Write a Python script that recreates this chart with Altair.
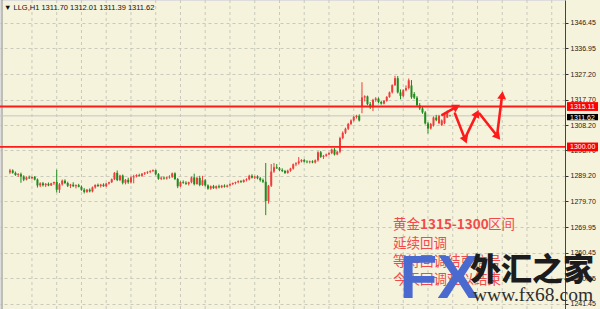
import math
import altair as alt
import pandas as pd

# ---- LLG H1 candles, oldest on the left ----
opens = [
    1290.5, 1291.2, 1290.3, 1289.5, 1289.8, 1288.9, 1287.8, 1288.6, 1288.3, 1288.8,
    1287.8, 1285.6, 1286.4, 1285.7, 1286.2, 1285.6, 1286.4, 1286.9, 1284.0, 1286.0,
    1287.4, 1286.5, 1285.5, 1285.9, 1285.3, 1285.7, 1285.1, 1284.0, 1283.2, 1284.0,
    1283.4, 1284.9, 1285.8, 1285.4, 1285.9, 1285.3, 1286.3, 1286.8, 1287.9, 1290.3,
    1287.6, 1289.3, 1286.6, 1287.7, 1286.8, 1288.6, 1289.0, 1289.5, 1289.2, 1290.0,
    1290.4, 1290.7, 1291.0, 1291.3, 1289.8, 1288.1, 1288.5, 1288.2, 1288.6, 1288.8,
    1290.1, 1288.0, 1285.3, 1286.9, 1286.6, 1286.2, 1286.8, 1288.6, 1286.1, 1288.4,
    1285.8, 1287.5, 1285.6, 1284.4, 1285.3, 1284.6, 1285.3, 1284.9, 1285.5, 1285.1,
    1285.6, 1286.1, 1286.5, 1286.8, 1287.2, 1286.9, 1287.6, 1287.9, 1289.2, 1288.5,
    1288.9, 1288.3, 1287.6, 1287.0, 1279.8, 1285.5, 1290.8, 1292.4, 1292.0, 1291.4,
    1291.0, 1290.3, 1291.1, 1291.9, 1293.5, 1293.9, 1294.6, 1295.1, 1294.5, 1294.3,
    1294.6, 1294.2, 1295.0, 1298.0, 1296.3, 1296.7, 1297.2, 1297.7, 1299.0, 1297.2,
    1298.2, 1303.3, 1305.3, 1306.8, 1308.6, 1309.9, 1311.2, 1311.6, 1315.3, 1318.5,
    1318.9, 1316.0, 1314.8, 1317.6, 1318.1, 1316.8, 1316.2, 1317.2, 1318.7, 1320.4,
    1323.1, 1325.7, 1320.4, 1319.1, 1321.2, 1322.0, 1323.0, 1319.8, 1318.4, 1315.6,
    1314.4, 1312.9, 1308.8, 1306.9, 1308.0, 1311.0, 1308.9, 1308.2, 1308.9, 1311.0,
    1311.70,
]
highs = [
    1291.8, 1291.6, 1290.8, 1290.2, 1290.4, 1289.4, 1289.0, 1289.3, 1289.0, 1289.1,
    1288.2, 1286.8, 1286.9, 1286.5, 1286.7, 1286.6, 1287.0, 1291.5, 1286.5, 1287.8,
    1287.9, 1287.0, 1286.2, 1286.8, 1286.0, 1286.2, 1285.6, 1284.6, 1284.3, 1284.5,
    1285.2, 1286.0, 1286.3, 1286.2, 1286.4, 1286.5, 1287.0, 1288.2, 1290.6, 1291.2,
    1289.6, 1289.7, 1288.0, 1288.5, 1289.0, 1289.6, 1289.8, 1290.0, 1290.2, 1290.6,
    1290.9, 1291.3, 1291.6, 1291.5, 1290.2, 1288.9, 1289.0, 1288.9, 1289.4, 1290.4,
    1290.5, 1288.4, 1287.2, 1287.5, 1287.2, 1287.0, 1288.9, 1290.0, 1288.8, 1289.2,
    1289.2, 1288.0, 1286.0, 1285.6, 1285.8, 1285.6, 1285.9, 1285.8, 1286.0, 1285.9,
    1286.4, 1286.7, 1287.0, 1287.5, 1287.6, 1287.9, 1288.3, 1289.6, 1289.8, 1289.2,
    1289.4, 1288.8, 1288.2, 1294.0, 1285.8, 1293.6, 1294.0, 1293.6, 1292.5, 1292.0,
    1291.4, 1291.5, 1292.2, 1293.8, 1294.3, 1296.2, 1295.4, 1295.5, 1295.0, 1294.9,
    1295.0, 1295.3, 1298.4, 1298.5, 1297.0, 1297.5, 1298.0, 1299.4, 1299.6, 1298.5,
    1303.8, 1305.8, 1307.2, 1309.0, 1310.3, 1311.6, 1312.0, 1312.2, 1324.2, 1319.3,
    1319.2, 1316.8, 1318.0, 1318.6, 1318.5, 1317.3, 1317.5, 1319.0, 1320.7, 1323.4,
    1326.6, 1326.5, 1321.5, 1321.6, 1323.0, 1325.6, 1325.0, 1320.5, 1319.0, 1316.4,
    1315.0, 1313.4, 1309.3, 1309.0, 1311.4, 1312.0, 1312.0, 1310.3, 1312.8, 1313.6,
    1312.01,
]
lows = [
    1289.9, 1290.0, 1289.2, 1288.8, 1286.6, 1287.2, 1287.5, 1288.0, 1287.9, 1287.5,
    1284.8, 1285.0, 1285.2, 1285.0, 1285.3, 1285.4, 1285.8, 1283.0, 1282.8, 1285.5,
    1286.1, 1285.0, 1284.6, 1285.0, 1284.5, 1284.9, 1283.6, 1282.6, 1282.8, 1283.0,
    1283.0, 1284.4, 1285.0, 1284.8, 1285.1, 1285.0, 1285.9, 1286.5, 1287.6, 1287.2,
    1287.2, 1286.0, 1286.0, 1286.2, 1286.3, 1286.4, 1288.6, 1288.9, 1288.8, 1289.5,
    1289.9, 1290.2, 1290.6, 1289.4, 1287.7, 1287.6, 1287.8, 1287.8, 1288.1, 1288.4,
    1287.6, 1284.6, 1285.0, 1286.2, 1285.8, 1285.6, 1286.4, 1285.6, 1285.9, 1285.3,
    1285.4, 1285.2, 1284.0, 1284.0, 1284.3, 1284.2, 1284.5, 1284.6, 1284.8, 1284.8,
    1285.3, 1285.8, 1286.0, 1286.4, 1286.5, 1286.6, 1287.1, 1287.5, 1288.2, 1288.0,
    1287.9, 1287.0, 1286.5, 1274.5, 1278.8, 1285.0, 1290.3, 1291.8, 1290.9, 1290.6,
    1289.9, 1290.0, 1290.7, 1291.5, 1292.8, 1293.4, 1294.2, 1294.2, 1293.9, 1293.8,
    1293.9, 1293.8, 1294.5, 1295.9, 1295.5, 1296.3, 1296.9, 1297.3, 1296.8, 1296.9,
    1297.6, 1302.9, 1304.8, 1306.3, 1308.1, 1309.5, 1310.6, 1309.5, 1312.6, 1317.0,
    1315.6, 1314.2, 1313.4, 1316.9, 1316.4, 1315.8, 1315.9, 1316.9, 1318.4, 1320.0,
    1322.8, 1320.0, 1317.8, 1318.6, 1320.8, 1321.5, 1318.0, 1317.9, 1315.0, 1313.8,
    1312.4, 1308.4, 1305.0, 1306.5, 1307.6, 1309.6, 1308.5, 1307.8, 1308.5, 1310.8,
    1311.39,
]
closes = [
    1291.2, 1290.3, 1289.5, 1289.8, 1288.9, 1287.8, 1288.6, 1288.3, 1288.8, 1287.8,
    1285.6, 1286.4, 1285.7, 1286.2, 1285.6, 1286.4, 1286.9, 1284.0, 1286.0, 1287.4,
    1286.5, 1285.5, 1285.9, 1285.3, 1285.7, 1285.1, 1284.0, 1283.2, 1284.0, 1283.4,
    1284.9, 1285.8, 1285.4, 1285.9, 1285.3, 1286.3, 1286.8, 1287.9, 1290.3, 1287.6,
    1289.3, 1286.6, 1287.7, 1286.8, 1288.6, 1289.0, 1289.5, 1289.2, 1290.0, 1290.4,
    1290.7, 1291.0, 1291.3, 1289.8, 1288.1, 1288.5, 1288.2, 1288.6, 1288.8, 1290.1,
    1288.0, 1285.3, 1286.9, 1286.6, 1286.2, 1286.8, 1288.6, 1286.1, 1288.4, 1285.8,
    1287.5, 1285.6, 1284.4, 1285.3, 1284.6, 1285.3, 1284.9, 1285.5, 1285.1, 1285.6,
    1286.1, 1286.5, 1286.8, 1287.2, 1286.9, 1287.6, 1287.9, 1289.2, 1288.5, 1288.9,
    1288.3, 1287.6, 1287.0, 1279.8, 1285.5, 1290.8, 1292.4, 1292.0, 1291.4, 1291.0,
    1290.3, 1291.1, 1291.9, 1293.5, 1293.9, 1294.6, 1295.1, 1294.5, 1294.3, 1294.6,
    1294.2, 1295.0, 1298.0, 1296.3, 1296.7, 1297.2, 1297.7, 1299.0, 1297.2, 1298.2,
    1303.3, 1305.3, 1306.8, 1308.6, 1309.9, 1311.2, 1311.6, 1309.9, 1318.5, 1318.9,
    1316.0, 1314.8, 1317.6, 1318.1, 1316.8, 1316.2, 1317.2, 1318.7, 1320.4, 1323.1,
    1325.7, 1320.4, 1319.1, 1321.2, 1322.0, 1324.9, 1318.6, 1318.4, 1315.6, 1314.4,
    1312.9, 1308.8, 1306.9, 1308.6, 1311.0, 1310.0, 1311.6, 1309.9, 1312.4, 1313.2,
    1311.62,
]

# price scale labels on the right
axis_ticks = [1346.45, 1336.95, 1327.20, 1317.70, 1308.20, 1298.70,
              1289.20, 1279.70, 1269.95, 1260.45, 1250.95, 1241.45]
levels = [1315.11, 1300.00]
last_price = 1311.62
header = "\u25bc LLG,H1  1311.70 1312.01 1311.39 1311.62"

# hand-drawn forecast path (bar, price) for each arrow stroke
arrow_from_bar = [157.2, 161.8, 165.4, 170.7, 177.1]
arrow_from_price = [1312.0, 1312.5, 1303.1, 1312.5, 1304.2]
arrow_to_bar = [162.0, 165.4, 169.6, 177.1, 178.9]
arrow_to_price = [1314.8, 1303.1, 1312.1, 1304.2, 1318.9]

note_lines = ["延续回调", "等待回调结束信号", "今天回调难以结束"]

# ---- layout ----
W, H = 565, 309
X_DOM = [-1.8, 200.0]
Y_DOM = [1239.4, 1354.94]
BG = "#f5f3dc"
UP = "#f03c3c"
DOWN = "#1f8c1f"
LINE_RED = "#ff1a1a"
NOTE_RED = "#f24a4a"

xs = alt.Scale(domain=X_DOM, nice=False, zero=False)
ys = alt.Scale(domain=Y_DOM, nice=False, zero=False)
yaxis = alt.Axis(
    orient="right", values=axis_ticks, format=".2f", title=None,
    labelFont="Liberation Sans", labelFontSize=7, labelColor="#1a1a1a",
    labelPadding=2, tickSize=3, tickColor="#333", domainColor="#444",
    grid=True, gridColor="#c9c9bc", gridDash=[3, 3], labelOverlap=False,
)

df = pd.DataFrame({"bar": range(len(opens)), "open": opens, "high": highs,
                   "low": lows, "close": closes})
df["dir"] = ["up" if c >= o else "down" for o, c in zip(opens, closes)]
color = alt.Color("dir:N", scale=alt.Scale(domain=["up", "down"], range=[UP, DOWN]),
                  legend=None)

base = alt.Chart(df)
wicks = base.mark_rule(strokeWidth=1).encode(
    x=alt.X("bar:Q", scale=xs, axis=None),
    y=alt.Y("low:Q", scale=ys, axis=yaxis),
    y2="high:Q", color=color)
bodies = base.mark_bar(size=2).encode(
    x=alt.X("bar:Q", scale=xs, axis=None),
    y=alt.Y("open:Q", scale=ys, axis=yaxis),
    y2="close:Q", color=color)

# vertical dotted grid every 9 bars
vgrid = alt.Chart(pd.DataFrame({"bar": list(range(8, 200, 9))})).mark_rule(
    color="#c9c9bc", strokeDash=[3, 3], strokeWidth=1).encode(
    x=alt.X("bar:Q", scale=xs, axis=None), y=alt.value(0), y2=alt.value(H))

lv = pd.DataFrame({"price": levels})
level_lines = alt.Chart(lv).mark_rule(color=LINE_RED, strokeWidth=1.8).encode(
    y=alt.Y("price:Q", scale=ys, axis=yaxis), x=alt.value(0), x2=alt.value(W))

bid = pd.DataFrame({"price": [last_price]})
bid_line = alt.Chart(bid).mark_rule(color="#c6c6c0", strokeWidth=1).encode(
    y=alt.Y("price:Q", scale=ys, axis=yaxis), x=alt.value(0), x2=alt.value(W))

# left frame edge
frame = alt.Chart(bid).mark_rule(color="#8a8a84", strokeWidth=1).encode(
    x=alt.value(2), y=alt.value(0), y2=alt.value(H))

# arrows
px_bar = W / (X_DOM[1] - X_DOM[0])
px_price = H / (Y_DOM[1] - Y_DOM[0])
rows, heads = [], []
for k, (b0, p0, b1, p1) in enumerate(zip(arrow_from_bar, arrow_from_price,
                                           arrow_to_bar, arrow_to_price)):
    rows.append({"seg": k, "step": 0, "bar": b0, "price": p0})
    rows.append({"seg": k, "step": 1, "bar": b1, "price": p1})
    dx = (b1 - b0) * px_bar
    dy = -(p1 - p0) * px_price
    ang = math.degrees(math.atan2(dx, -dy)) % 360
    heads.append({"bar": b1, "price": p1, "angle": ang})
arrow_lines = alt.Chart(pd.DataFrame(rows)).mark_line(
    color=LINE_RED, strokeWidth=2.6, strokeCap="round").encode(
    x=alt.X("bar:Q", scale=xs, axis=None),
    y=alt.Y("price:Q", scale=ys, axis=yaxis),
    detail="seg:N", order="step:O")
arrow_heads = alt.Chart(pd.DataFrame(heads)).mark_point(
    shape="triangle", filled=True, size=80, color=LINE_RED, opacity=1).encode(
    x=alt.X("bar:Q", scale=xs, axis=None),
    y=alt.Y("price:Q", scale=ys, axis=yaxis),
    angle=alt.Angle("angle:Q", scale=None))

# price tags on the axis
tag_calc = dict(top="datum.price + 1.65", bot="datum.price - 1.65")
red_tags = alt.Chart(lv).transform_calculate(**tag_calc).mark_rect(color="#ff0000").encode(
    y=alt.Y("top:Q", scale=ys, axis=yaxis), y2="bot:Q",
    x=alt.value(567), x2=alt.value(598))
red_text = alt.Chart(lv).mark_text(color="white", fontSize=7, font="Liberation Sans",
                                   align="left", baseline="middle").encode(
    y=alt.Y("price:Q", scale=ys, axis=yaxis), x=alt.value(570),
    text=alt.Text("price:Q", format=".2f"))
bid_tag = alt.Chart(bid).transform_calculate(**tag_calc).mark_rect(
    color="#000000", yOffset=2.5).encode(
    y=alt.Y("top:Q", scale=ys, axis=yaxis), y2="bot:Q",
    x=alt.value(567), x2=alt.value(598))
bid_text = alt.Chart(bid).mark_text(color="white", fontSize=7, font="Liberation Sans",
                                    align="left", baseline="middle", yOffset=2.5).encode(
    y=alt.Y("price:Q", scale=ys, axis=yaxis), x=alt.value(570),
    text=alt.Text("price:Q", format=".2f"))


def label(text, x, y, **kw):
    return alt.Chart(pd.DataFrame({"t": [text]})).mark_text(**kw).encode(
        text="t:N", x=alt.value(x), y=alt.value(y))


title = label(header, 4, 8, font="Liberation Sans", fontSize=7.5, color="#111",
              align="left", baseline="middle")

cjk = "Noto Sans CJK SC"
note = [
    label("黄金", 393, 225, font=cjk, fontSize=13.5, color=NOTE_RED, align="left",
          baseline="middle"),
    label("1315-1300", 420, 225, font=cjk, fontSize=13.5, fontWeight="bold",
          color=NOTE_RED, align="left", baseline="middle"),
    label("区间", 488, 225, font=cjk, fontSize=13.5, color=NOTE_RED, align="left",
          baseline="middle"),
]
for i, line in enumerate(note_lines):
    note.append(label(line, 393, 243.5 + 18 * i, font=cjk, fontSize=13.5,
                      color=NOTE_RED, align="left", baseline="middle"))

# site watermark
mark_fx = label("FX", 439, 298, font="Liberation Sans", fontSize=62, fontWeight="bold",
                color="#4a6ad0", align="center", baseline="alphabetic")
mark_cn = label("外汇之家", 470, 271, font=cjk, fontSize=31, fontWeight=900,
                color="#1c1c1c", align="left", baseline="middle")
mark_url = label("www.fx68.com", 473, 301, font="Liberation Serif", fontSize=19.5,
                 color="#2e2e2e", align="left", baseline="alphabetic")

chart = alt.layer(
    vgrid, frame, bid_line, wicks, bodies, level_lines, arrow_lines, arrow_heads,
    red_tags, red_text, bid_tag, bid_text, title, *note, mark_fx, mark_cn, mark_url,
).properties(
    width=W, height=H, autosize="none",
    padding={"left": 0, "top": 0, "right": 35, "bottom": 0},
).configure_view(stroke=None, fill=BG).configure(background=BG)

chart.save("out.html", embed_options={"renderer": "svg", "actions": False})
